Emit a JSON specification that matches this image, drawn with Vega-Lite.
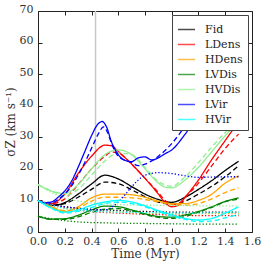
{
"$schema":"https://vega.github.io/schema/vega-lite/v6.json",
"width":214,"height":221,
"autosize":{"type":"none"},
"padding":{"left":38,"top":11,"right":14,"bottom":37},
"config":{"font":"DejaVu Serif","view":{"stroke":"#222","strokeWidth":1},
"legend":{"labelFont":"DejaVu Serif"},
"axis":{"labelFont":"DejaVu Serif","titleFont":"DejaVu Serif","labelFontSize":11,"titleFontSize":12,"titleFontWeight":"normal","labelColor":"#333","titleColor":"#333","domain":false,"grid":false,"tickColor":"#222","tickSize":-4,"labelPadding":6,"labelFlush":false,"labelOverlap":false}},
"datasets":{"series":[
{"s":"Fid","d":"solid","t":0,"v":10},{"s":"Fid","d":"solid","t":0.1,"v":8.4},{"s":"Fid","d":"solid","t":0.2,"v":9.3},{"s":"Fid","d":"solid","t":0.3,"v":12},{"s":"Fid","d":"solid","t":0.4,"v":15.2},{"s":"Fid","d":"solid","t":0.5,"v":18},{"s":"Fid","d":"solid","t":0.6,"v":16.8},{"s":"Fid","d":"solid","t":0.7,"v":14.4},{"s":"Fid","d":"solid","t":0.8,"v":12},{"s":"Fid","d":"solid","t":0.9,"v":10.3},{"s":"Fid","d":"solid","t":1.0,"v":9.4},{"s":"Fid","d":"solid","t":1.1,"v":11},{"s":"Fid","d":"solid","t":1.2,"v":13.5},{"s":"Fid","d":"solid","t":1.3,"v":16.3},{"s":"Fid","d":"solid","t":1.4,"v":19.5},{"s":"Fid","d":"solid","t":1.5,"v":22.4},
{"s":"Fid","d":"dashed","t":0,"v":10},{"s":"Fid","d":"dashed","t":0.1,"v":8.5},{"s":"Fid","d":"dashed","t":0.2,"v":9},{"s":"Fid","d":"dashed","t":0.3,"v":11},{"s":"Fid","d":"dashed","t":0.4,"v":13.5},{"s":"Fid","d":"dashed","t":0.5,"v":15.8},{"s":"Fid","d":"dashed","t":0.6,"v":15.3},{"s":"Fid","d":"dashed","t":0.7,"v":13.4},{"s":"Fid","d":"dashed","t":0.8,"v":11.2},{"s":"Fid","d":"dashed","t":0.9,"v":9.5},{"s":"Fid","d":"dashed","t":1.0,"v":8.8},{"s":"Fid","d":"dashed","t":1.1,"v":9.8},{"s":"Fid","d":"dashed","t":1.2,"v":12},{"s":"Fid","d":"dashed","t":1.3,"v":14.5},{"s":"Fid","d":"dashed","t":1.4,"v":17.5},{"s":"Fid","d":"dashed","t":1.5,"v":21},
{"s":"Fid","d":"dotted","t":0,"v":10},{"s":"Fid","d":"dotted","t":0.1,"v":8.8},{"s":"Fid","d":"dotted","t":0.2,"v":8},{"s":"Fid","d":"dotted","t":0.3,"v":7.5},{"s":"Fid","d":"dotted","t":0.4,"v":7.2},{"s":"Fid","d":"dotted","t":0.5,"v":7},{"s":"Fid","d":"dotted","t":0.6,"v":6.8},{"s":"Fid","d":"dotted","t":0.7,"v":6.6},{"s":"Fid","d":"dotted","t":0.8,"v":6.5},{"s":"Fid","d":"dotted","t":0.9,"v":6.4},{"s":"Fid","d":"dotted","t":1.0,"v":6.3},{"s":"Fid","d":"dotted","t":1.2,"v":6.3},{"s":"Fid","d":"dotted","t":1.5,"v":6.3},
{"s":"LDens","d":"solid","t":0,"v":10},{"s":"LDens","d":"solid","t":0.1,"v":9},{"s":"LDens","d":"solid","t":0.2,"v":12},{"s":"LDens","d":"solid","t":0.3,"v":18.5},{"s":"LDens","d":"solid","t":0.4,"v":24},{"s":"LDens","d":"solid","t":0.5,"v":27.5},{"s":"LDens","d":"solid","t":0.55,"v":27.3},{"s":"LDens","d":"solid","t":0.6,"v":25.5},{"s":"LDens","d":"solid","t":0.7,"v":21.5},{"s":"LDens","d":"solid","t":0.8,"v":17},{"s":"LDens","d":"solid","t":0.9,"v":12},{"s":"LDens","d":"solid","t":0.95,"v":9.3},{"s":"LDens","d":"solid","t":1.0,"v":8},{"s":"LDens","d":"solid","t":1.05,"v":8.5},{"s":"LDens","d":"solid","t":1.1,"v":11},{"s":"LDens","d":"solid","t":1.2,"v":16.5},{"s":"LDens","d":"solid","t":1.3,"v":23},{"s":"LDens","d":"solid","t":1.4,"v":29},{"s":"LDens","d":"solid","t":1.5,"v":35},
{"s":"LDens","d":"dashed","t":0,"v":10},{"s":"LDens","d":"dashed","t":0.1,"v":9},{"s":"LDens","d":"dashed","t":0.2,"v":10.5},{"s":"LDens","d":"dashed","t":0.3,"v":15},{"s":"LDens","d":"dashed","t":0.4,"v":20},{"s":"LDens","d":"dashed","t":0.5,"v":24},{"s":"LDens","d":"dashed","t":0.55,"v":25.3},{"s":"LDens","d":"dashed","t":0.6,"v":25},{"s":"LDens","d":"dashed","t":0.7,"v":21.5},{"s":"LDens","d":"dashed","t":0.8,"v":17},{"s":"LDens","d":"dashed","t":0.9,"v":12.5},{"s":"LDens","d":"dashed","t":0.95,"v":10},{"s":"LDens","d":"dashed","t":1.0,"v":8.7},{"s":"LDens","d":"dashed","t":1.05,"v":9},{"s":"LDens","d":"dashed","t":1.1,"v":11},{"s":"LDens","d":"dashed","t":1.2,"v":15.5},{"s":"LDens","d":"dashed","t":1.3,"v":21},{"s":"LDens","d":"dashed","t":1.4,"v":26.5},{"s":"LDens","d":"dashed","t":1.5,"v":31},
{"s":"LDens","d":"dotted","t":0,"v":10},{"s":"LDens","d":"dotted","t":0.1,"v":8.8},{"s":"LDens","d":"dotted","t":0.2,"v":7.8},{"s":"LDens","d":"dotted","t":0.3,"v":7},{"s":"LDens","d":"dotted","t":0.4,"v":6.5},{"s":"LDens","d":"dotted","t":0.5,"v":6.2},{"s":"LDens","d":"dotted","t":0.6,"v":6},{"s":"LDens","d":"dotted","t":0.7,"v":5.8},{"s":"LDens","d":"dotted","t":0.8,"v":5.6},{"s":"LDens","d":"dotted","t":0.9,"v":5.5},{"s":"LDens","d":"dotted","t":1.0,"v":5.4},{"s":"LDens","d":"dotted","t":1.2,"v":5.2},{"s":"LDens","d":"dotted","t":1.5,"v":5.2},
{"s":"HDens","d":"solid","t":0,"v":10},{"s":"HDens","d":"solid","t":0.1,"v":8},{"s":"HDens","d":"solid","t":0.2,"v":6.5},{"s":"HDens","d":"solid","t":0.3,"v":8},{"s":"HDens","d":"solid","t":0.4,"v":10.8},{"s":"HDens","d":"solid","t":0.5,"v":12},{"s":"HDens","d":"solid","t":0.6,"v":12},{"s":"HDens","d":"solid","t":0.7,"v":11.8},{"s":"HDens","d":"solid","t":0.8,"v":11},{"s":"HDens","d":"solid","t":0.9,"v":9.8},{"s":"HDens","d":"solid","t":1.0,"v":9},{"s":"HDens","d":"solid","t":1.1,"v":9},{"s":"HDens","d":"solid","t":1.2,"v":10},{"s":"HDens","d":"solid","t":1.3,"v":12},{"s":"HDens","d":"solid","t":1.4,"v":15.5},{"s":"HDens","d":"solid","t":1.5,"v":17.8},
{"s":"HDens","d":"dashed","t":0,"v":10},{"s":"HDens","d":"dashed","t":0.1,"v":8},{"s":"HDens","d":"dashed","t":0.2,"v":6.8},{"s":"HDens","d":"dashed","t":0.3,"v":7.5},{"s":"HDens","d":"dashed","t":0.4,"v":9.8},{"s":"HDens","d":"dashed","t":0.5,"v":11},{"s":"HDens","d":"dashed","t":0.6,"v":11},{"s":"HDens","d":"dashed","t":0.7,"v":10.8},{"s":"HDens","d":"dashed","t":0.8,"v":10.3},{"s":"HDens","d":"dashed","t":0.9,"v":9.5},{"s":"HDens","d":"dashed","t":1.0,"v":8.8},{"s":"HDens","d":"dashed","t":1.1,"v":8.5},{"s":"HDens","d":"dashed","t":1.2,"v":9},{"s":"HDens","d":"dashed","t":1.3,"v":10.5},{"s":"HDens","d":"dashed","t":1.4,"v":12.5},{"s":"HDens","d":"dashed","t":1.5,"v":14},
{"s":"HDens","d":"dotted","t":0,"v":10},{"s":"HDens","d":"dotted","t":0.1,"v":8.5},{"s":"HDens","d":"dotted","t":0.2,"v":7.5},{"s":"HDens","d":"dotted","t":0.3,"v":7},{"s":"HDens","d":"dotted","t":0.4,"v":6.7},{"s":"HDens","d":"dotted","t":0.5,"v":6.5},{"s":"HDens","d":"dotted","t":0.6,"v":6.3},{"s":"HDens","d":"dotted","t":0.7,"v":6.1},{"s":"HDens","d":"dotted","t":0.8,"v":6},{"s":"HDens","d":"dotted","t":1.0,"v":5.8},{"s":"HDens","d":"dotted","t":1.5,"v":5.8},
{"s":"LVDis","d":"solid","t":0,"v":5},{"s":"LVDis","d":"solid","t":0.1,"v":4.1},{"s":"LVDis","d":"solid","t":0.2,"v":4.2},{"s":"LVDis","d":"solid","t":0.3,"v":5.3},{"s":"LVDis","d":"solid","t":0.4,"v":7},{"s":"LVDis","d":"solid","t":0.5,"v":8.2},{"s":"LVDis","d":"solid","t":0.6,"v":8},{"s":"LVDis","d":"solid","t":0.7,"v":7},{"s":"LVDis","d":"solid","t":0.8,"v":5.8},{"s":"LVDis","d":"solid","t":0.9,"v":4.9},{"s":"LVDis","d":"solid","t":1.0,"v":4.7},{"s":"LVDis","d":"solid","t":1.1,"v":5.4},{"s":"LVDis","d":"solid","t":1.2,"v":6.5},{"s":"LVDis","d":"solid","t":1.3,"v":8},{"s":"LVDis","d":"solid","t":1.4,"v":9.7},{"s":"LVDis","d":"solid","t":1.5,"v":10.8},
{"s":"LVDis","d":"dashed","t":0,"v":5},{"s":"LVDis","d":"dashed","t":0.1,"v":4},{"s":"LVDis","d":"dashed","t":0.2,"v":4},{"s":"LVDis","d":"dashed","t":0.3,"v":4.8},{"s":"LVDis","d":"dashed","t":0.4,"v":6.2},{"s":"LVDis","d":"dashed","t":0.5,"v":7.2},{"s":"LVDis","d":"dashed","t":0.6,"v":7.4},{"s":"LVDis","d":"dashed","t":0.7,"v":6.7},{"s":"LVDis","d":"dashed","t":0.8,"v":5.5},{"s":"LVDis","d":"dashed","t":0.9,"v":4.6},{"s":"LVDis","d":"dashed","t":1.0,"v":4.3},{"s":"LVDis","d":"dashed","t":1.1,"v":4.9},{"s":"LVDis","d":"dashed","t":1.2,"v":6.3},{"s":"LVDis","d":"dashed","t":1.3,"v":7.8},{"s":"LVDis","d":"dashed","t":1.4,"v":9.6},{"s":"LVDis","d":"dashed","t":1.5,"v":10.4},
{"s":"LVDis","d":"dotted","t":0,"v":5},{"s":"LVDis","d":"dotted","t":0.1,"v":4.2},{"s":"LVDis","d":"dotted","t":0.2,"v":3.6},{"s":"LVDis","d":"dotted","t":0.3,"v":3.2},{"s":"LVDis","d":"dotted","t":0.4,"v":3},{"s":"LVDis","d":"dotted","t":0.5,"v":2.9},{"s":"LVDis","d":"dotted","t":0.6,"v":2.8},{"s":"LVDis","d":"dotted","t":0.8,"v":2.7},{"s":"LVDis","d":"dotted","t":1.0,"v":2.6},{"s":"LVDis","d":"dotted","t":1.2,"v":2.5},{"s":"LVDis","d":"dotted","t":1.5,"v":2.5},
{"s":"HVDis","d":"solid","t":0,"v":15},{"s":"HVDis","d":"solid","t":0.1,"v":13},{"s":"HVDis","d":"solid","t":0.2,"v":12.2},{"s":"HVDis","d":"solid","t":0.3,"v":15},{"s":"HVDis","d":"solid","t":0.4,"v":20},{"s":"HVDis","d":"solid","t":0.5,"v":24.5},{"s":"HVDis","d":"solid","t":0.6,"v":26},{"s":"HVDis","d":"solid","t":0.7,"v":24.5},{"s":"HVDis","d":"solid","t":0.8,"v":20},{"s":"HVDis","d":"solid","t":0.9,"v":15.5},{"s":"HVDis","d":"solid","t":0.95,"v":14.2},{"s":"HVDis","d":"solid","t":1.0,"v":14},{"s":"HVDis","d":"solid","t":1.1,"v":16.5},{"s":"HVDis","d":"solid","t":1.2,"v":20.5},{"s":"HVDis","d":"solid","t":1.3,"v":25.5},{"s":"HVDis","d":"solid","t":1.4,"v":30.5},{"s":"HVDis","d":"solid","t":1.5,"v":35},
{"s":"HVDis","d":"dashed","t":0,"v":15},{"s":"HVDis","d":"dashed","t":0.1,"v":13},{"s":"HVDis","d":"dashed","t":0.2,"v":11.5},{"s":"HVDis","d":"dashed","t":0.3,"v":13.5},{"s":"HVDis","d":"dashed","t":0.4,"v":18},{"s":"HVDis","d":"dashed","t":0.5,"v":22.5},{"s":"HVDis","d":"dashed","t":0.6,"v":25},{"s":"HVDis","d":"dashed","t":0.7,"v":24.5},{"s":"HVDis","d":"dashed","t":0.8,"v":20.5},{"s":"HVDis","d":"dashed","t":0.9,"v":16},{"s":"HVDis","d":"dashed","t":1.0,"v":14.5},{"s":"HVDis","d":"dashed","t":1.1,"v":17.5},{"s":"HVDis","d":"dashed","t":1.2,"v":22},{"s":"HVDis","d":"dashed","t":1.3,"v":27},{"s":"HVDis","d":"dashed","t":1.4,"v":31.5},{"s":"HVDis","d":"dashed","t":1.5,"v":35.5},
{"s":"HVDis","d":"dotted","t":0,"v":15},{"s":"HVDis","d":"dotted","t":0.1,"v":12.5},{"s":"HVDis","d":"dotted","t":0.2,"v":10.8},{"s":"HVDis","d":"dotted","t":0.3,"v":9.8},{"s":"HVDis","d":"dotted","t":0.4,"v":9.2},{"s":"HVDis","d":"dotted","t":0.5,"v":8.9},{"s":"HVDis","d":"dotted","t":0.6,"v":8.7},{"s":"HVDis","d":"dotted","t":0.8,"v":8.5},{"s":"HVDis","d":"dotted","t":1.0,"v":8.4},{"s":"HVDis","d":"dotted","t":1.2,"v":8.3},{"s":"HVDis","d":"dotted","t":1.5,"v":8.3},
{"s":"LVir","d":"solid","t":0,"v":10},{"s":"LVir","d":"solid","t":0.05,"v":9.3},{"s":"LVir","d":"solid","t":0.1,"v":9.5},{"s":"LVir","d":"solid","t":0.15,"v":11},{"s":"LVir","d":"solid","t":0.2,"v":13},{"s":"LVir","d":"solid","t":0.25,"v":16},{"s":"LVir","d":"solid","t":0.3,"v":20.5},{"s":"LVir","d":"solid","t":0.35,"v":25.5},{"s":"LVir","d":"solid","t":0.4,"v":30.5},{"s":"LVir","d":"solid","t":0.45,"v":34.3},{"s":"LVir","d":"solid","t":0.48,"v":35},{"s":"LVir","d":"solid","t":0.51,"v":33.5},{"s":"LVir","d":"solid","t":0.55,"v":28.5},{"s":"LVir","d":"solid","t":0.6,"v":24.5},{"s":"LVir","d":"solid","t":0.65,"v":22.7},{"s":"LVir","d":"solid","t":0.7,"v":22.3},{"s":"LVir","d":"solid","t":0.75,"v":23.5},{"s":"LVir","d":"solid","t":0.8,"v":23.8},{"s":"LVir","d":"solid","t":0.85,"v":22.8},{"s":"LVir","d":"solid","t":0.9,"v":23.5},{"s":"LVir","d":"solid","t":0.95,"v":24.8},{"s":"LVir","d":"solid","t":1.0,"v":26},{"s":"LVir","d":"solid","t":1.1,"v":31},{"s":"LVir","d":"solid","t":1.15,"v":34},{"s":"LVir","d":"solid","t":1.2,"v":37},{"s":"LVir","d":"solid","t":1.3,"v":43},{"s":"LVir","d":"solid","t":1.4,"v":49},{"s":"LVir","d":"solid","t":1.5,"v":55},
{"s":"LVir","d":"dashed","t":0,"v":10},{"s":"LVir","d":"dashed","t":0.05,"v":9.2},{"s":"LVir","d":"dashed","t":0.1,"v":9.2},{"s":"LVir","d":"dashed","t":0.15,"v":10.3},{"s":"LVir","d":"dashed","t":0.2,"v":12},{"s":"LVir","d":"dashed","t":0.25,"v":14.5},{"s":"LVir","d":"dashed","t":0.3,"v":18},{"s":"LVir","d":"dashed","t":0.35,"v":22},{"s":"LVir","d":"dashed","t":0.4,"v":26.5},{"s":"LVir","d":"dashed","t":0.45,"v":31},{"s":"LVir","d":"dashed","t":0.49,"v":33.3},{"s":"LVir","d":"dashed","t":0.52,"v":31.5},{"s":"LVir","d":"dashed","t":0.55,"v":28},{"s":"LVir","d":"dashed","t":0.6,"v":24},{"s":"LVir","d":"dashed","t":0.7,"v":22},{"s":"LVir","d":"dashed","t":0.75,"v":21},{"s":"LVir","d":"dashed","t":0.8,"v":21.5},{"s":"LVir","d":"dashed","t":0.85,"v":22.5},{"s":"LVir","d":"dashed","t":0.9,"v":24},{"s":"LVir","d":"dashed","t":1.0,"v":28},{"s":"LVir","d":"dashed","t":1.1,"v":33.5},{"s":"LVir","d":"dashed","t":1.2,"v":39},{"s":"LVir","d":"dashed","t":1.3,"v":45},{"s":"LVir","d":"dashed","t":1.4,"v":51},{"s":"LVir","d":"dashed","t":1.5,"v":57},
{"s":"LVir","d":"dotted","t":0,"v":10},{"s":"LVir","d":"dotted","t":0.1,"v":8.7},{"s":"LVir","d":"dotted","t":0.2,"v":8},{"s":"LVir","d":"dotted","t":0.3,"v":7.5},{"s":"LVir","d":"dotted","t":0.4,"v":7},{"s":"LVir","d":"dotted","t":0.5,"v":7},{"s":"LVir","d":"dotted","t":0.55,"v":7.8},{"s":"LVir","d":"dotted","t":0.6,"v":9.5},{"s":"LVir","d":"dotted","t":0.65,"v":11.8},{"s":"LVir","d":"dotted","t":0.7,"v":14.3},{"s":"LVir","d":"dotted","t":0.75,"v":16.5},{"s":"LVir","d":"dotted","t":0.8,"v":18},{"s":"LVir","d":"dotted","t":0.9,"v":18.8},{"s":"LVir","d":"dotted","t":1.0,"v":18.5},{"s":"LVir","d":"dotted","t":1.1,"v":17.8},{"s":"LVir","d":"dotted","t":1.2,"v":17.3},{"s":"LVir","d":"dotted","t":1.3,"v":17.4},{"s":"LVir","d":"dotted","t":1.4,"v":17.5},{"s":"LVir","d":"dotted","t":1.5,"v":17.5},
{"s":"HVir","d":"solid","t":0,"v":10},{"s":"HVir","d":"solid","t":0.1,"v":7.6},{"s":"HVir","d":"solid","t":0.2,"v":6.3},{"s":"HVir","d":"solid","t":0.3,"v":7},{"s":"HVir","d":"solid","t":0.4,"v":8.5},{"s":"HVir","d":"solid","t":0.5,"v":9.5},{"s":"HVir","d":"solid","t":0.6,"v":10},{"s":"HVir","d":"solid","t":0.7,"v":9.5},{"s":"HVir","d":"solid","t":0.8,"v":8.3},{"s":"HVir","d":"solid","t":0.9,"v":6.8},{"s":"HVir","d":"solid","t":1.0,"v":5.5},{"s":"HVir","d":"solid","t":1.1,"v":4.3},{"s":"HVir","d":"solid","t":1.2,"v":3.8},{"s":"HVir","d":"solid","t":1.3,"v":4.3},{"s":"HVir","d":"solid","t":1.4,"v":6},{"s":"HVir","d":"solid","t":1.5,"v":8},
{"s":"HVir","d":"dashed","t":0,"v":10},{"s":"HVir","d":"dashed","t":0.1,"v":7.5},{"s":"HVir","d":"dashed","t":0.2,"v":6},{"s":"HVir","d":"dashed","t":0.3,"v":6.5},{"s":"HVir","d":"dashed","t":0.4,"v":7.8},{"s":"HVir","d":"dashed","t":0.5,"v":9},{"s":"HVir","d":"dashed","t":0.6,"v":9.5},{"s":"HVir","d":"dashed","t":0.7,"v":9},{"s":"HVir","d":"dashed","t":0.8,"v":8},{"s":"HVir","d":"dashed","t":0.9,"v":6.5},{"s":"HVir","d":"dashed","t":1.0,"v":5},{"s":"HVir","d":"dashed","t":1.1,"v":4},{"s":"HVir","d":"dashed","t":1.2,"v":3.3},{"s":"HVir","d":"dashed","t":1.3,"v":3.5},{"s":"HVir","d":"dashed","t":1.4,"v":4.5},{"s":"HVir","d":"dashed","t":1.5,"v":5.5},
{"s":"HVir","d":"dotted","t":0,"v":10},{"s":"HVir","d":"dotted","t":0.1,"v":8.5},{"s":"HVir","d":"dotted","t":0.2,"v":7.5},{"s":"HVir","d":"dotted","t":0.3,"v":7},{"s":"HVir","d":"dotted","t":0.4,"v":6.6},{"s":"HVir","d":"dotted","t":0.5,"v":6.4},{"s":"HVir","d":"dotted","t":0.6,"v":6.3},{"s":"HVir","d":"dotted","t":0.8,"v":6.1},{"s":"HVir","d":"dotted","t":1.0,"v":6},{"s":"HVir","d":"dotted","t":1.2,"v":6},{"s":"HVir","d":"dotted","t":1.4,"v":6.2},{"s":"HVir","d":"dotted","t":1.5,"v":6.3}
],
"marker":[{"t":0.43}]},
"layer":[
{"data":{"name":"marker"},"mark":{"type":"rule","color":"#c8c8c8","strokeWidth":1.5},
 "encoding":{"x":{"field":"t","type":"quantitative","scale":{"domain":[0,1.6],"nice":false},"axis":{"orient":"top","labels":false,"title":null,"values":[0,0.2,0.4,0.6,0.8,1.0,1.2,1.4,1.6]}}}},
{"data":{"name":"series"},"mark":{"type":"line","interpolate":"monotone","strokeWidth":1.3},
 "encoding":{
  "x":{"field":"t","type":"quantitative","scale":{"domain":[0,1.6],"nice":false},"axis":{"title":"Time (Myr)","values":[0,0.2,0.4,0.6,0.8,1.0,1.2,1.4,1.6],"format":".1f","labelPadding":7,"titlePadding":2}},
  "y":{"field":"v","type":"quantitative","scale":{"domain":[0,70],"nice":false},"axis":{"title":"σZ (km s⁻¹)","values":[0,10,20,30,40,50,60,70],"labelPadding":9,"labelOffset":-2,"titlePadding":2}},
  "color":{"field":"s","type":"nominal","scale":{"domain":["Fid","LDens","HDens","LVDis","HVDis","LVir","HVir"],"range":["#000000","#ff0000","#ffa500","#008000","#90ee90","#0000ff","#00ffff"]},
   "legend":{"title":null,"orient":"top-right","offset":4,"fillColor":"white","strokeColor":"#444","padding":5,"symbolType":"stroke","symbolSize":289,"symbolStrokeWidth":1.5,"symbolOpacity":0.7,"labelFontSize":11,"labelFont":"DejaVu Serif","labelColor":"#222","labelOffset":9,"rowPadding":-2}},
  "strokeDash":{"field":"d","type":"nominal","scale":{"domain":["solid","dashed","dotted"],"range":[[1,0],[5,3],[1.3,2]]},"legend":null},
  "detail":{"field":"d"},
  "order":{"field":"t","type":"quantitative"}
 }},
{"data":{"name":"series"},"mark":{"type":"point","opacity":0},
 "encoding":{"y":{"field":"v","type":"quantitative","scale":{"domain":[0,70],"nice":false},"axis":{"orient":"right","labels":false,"title":null,"values":[0,10,20,30,40,50,60,70]}}}}
],
"resolve":{"axis":{"x":"independent","y":"independent"}}
}
